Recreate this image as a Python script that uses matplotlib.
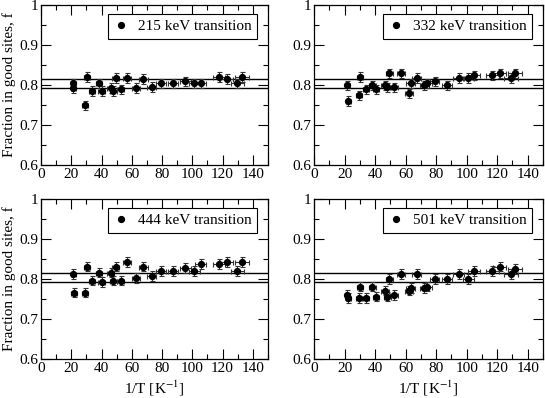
import matplotlib
matplotlib.use("Agg")
import matplotlib.pyplot as plt
from matplotlib.ticker import MultipleLocator, FuncFormatter
from matplotlib.lines import Line2D
import numpy as np

plt.rcParams['font.family'] = ['Liberation Serif', 'DejaVu Serif']
plt.rcParams['mathtext.fontset'] = 'stix'

# ---- data ----
x_left = [21.4, 21.4, 30.2, 29.1, 33.5, 38.3, 40.1, 46.0, 47.8, 49.3, 52.6, 57.1,
          62.6, 67.6, 73.1, 79.3, 87.4, 95.4, 101.3, 105.5, 117.6, 122.7, 129.8, 132.6]
f_215 = [0.804, 0.793, 0.820, 0.749, 0.785, 0.804, 0.785, 0.793, 0.785, 0.818, 0.789, 0.818,
         0.793, 0.815, 0.795, 0.804, 0.804, 0.809, 0.804, 0.804, 0.820, 0.815, 0.804, 0.820]
x_left3 = [21.4, 21.8, 29.1, 30.2, 33.5, 38.3, 40.1, 46.0, 47.8, 49.3, 52.6, 57.1,
           62.8, 67.6, 73.1, 79.3, 87.4, 95.4, 101.3, 105.5, 117.6, 122.7, 129.8, 132.6]
f_444 = [0.812, 0.766, 0.766, 0.831, 0.796, 0.816, 0.792, 0.816, 0.796, 0.831, 0.796, 0.842,
         0.802, 0.831, 0.808, 0.820, 0.820, 0.827, 0.820, 0.837, 0.837, 0.842, 0.820, 0.842]

x_right = [21.9, 22.5, 30.1, 29.5, 33.9, 38.2, 40.6, 46.5, 48.0, 49.3, 52.6, 57.0, 62.2,
           63.3, 67.2, 72.2, 74.2, 79.0, 87.1, 94.9, 101.0, 104.8, 116.8, 121.8, 129.0, 131.8]
f_332 = [0.799, 0.760, 0.820, 0.774, 0.789, 0.799, 0.789, 0.799, 0.794, 0.829, 0.794, 0.829, 0.779,
         0.804, 0.818, 0.799, 0.804, 0.809, 0.799, 0.818, 0.818, 0.824, 0.824, 0.829, 0.818, 0.829]
x_right4 = [21.9, 22.5, 29.5, 30.1, 33.9, 38.2, 40.6, 46.5, 48.0, 49.3, 52.6, 57.0, 62.2,
            63.3, 67.2, 72.2, 74.2, 79.0, 87.1, 94.9, 101.0, 104.8, 116.8, 121.8, 129.0, 131.8]
f_501 = [0.760, 0.752, 0.752, 0.781, 0.752, 0.781, 0.756, 0.771, 0.756, 0.800, 0.760, 0.812, 0.771,
         0.777, 0.812, 0.777, 0.781, 0.800, 0.800, 0.812, 0.800, 0.820, 0.820, 0.831, 0.812, 0.825]

ref_lines = [0.814, 0.792]
labels = ["215 keV transition", "332 keV transition", "444 keV transition", "501 keV transition"]

panels = [(x_left, f_215), (x_right, f_332), (x_left3, f_444), (x_right4, f_501)]

W, H = 545, 398
fig = plt.figure(figsize=(W / 100, H / 100), dpi=100)

rects = [(41, 5, 268, 165), (314, 5, 543, 165), (41, 199, 268, 359), (314, 199, 543, 359)]

fs = 11
for i, ((xs, fs_vals), (l, t, r, b)) in enumerate(zip(panels, rects)):
    ax = fig.add_axes([l / W, 1 - b / H, (r - l) / W, (b - t) / H])
    xs = np.array(xs)
    ys = np.array(fs_vals)
    xerr = 0.1 * xs * 0.25 + 1.2
    yerr = np.full_like(ys, 0.012)
    ax.errorbar(xs, ys, xerr=xerr, yerr=yerr, fmt='o', color='black', ms=4.2,
                ecolor='#333333', elinewidth=0.8, capsize=1.8, capthick=0.8, zorder=3)
    for yv in ref_lines:
        ax.axhline(yv, color='black', lw=1.0, zorder=2)
    ax.set_xlim(0, 150)
    ax.set_ylim(0.6, 1.0)
    ax.xaxis.set_major_locator(MultipleLocator(20))
    ax.xaxis.set_minor_locator(MultipleLocator(10))
    ax.yaxis.set_major_locator(MultipleLocator(0.1))
    ax.yaxis.set_minor_locator(MultipleLocator(0.05))
    ax.yaxis.set_major_formatter(FuncFormatter(lambda v, p: "1" if abs(v - 1) < 1e-9 else f"{v:.1f}"))
    ax.tick_params(which='both', direction='in', top=True, right=True, labelsize=fs, pad=2)
    ax.tick_params(which='major', length=7, width=0.8)
    ax.tick_params(which='minor', length=3.5, width=0.8)
    for s in ax.spines.values():
        s.set_linewidth(0.9)
    handle = Line2D([], [], marker='o', color='black', ls='none', ms=4.2)
    leg = ax.legend([handle], [labels[i]], loc='upper right', fontsize=fs, frameon=True,
                    fancybox=False, handlelength=1.0, handletextpad=0.6, borderpad=0.35,
                    bbox_to_anchor=(0.985, 0.99), numpoints=1, framealpha=1)
    leg.get_frame().set_edgecolor('black')
    leg.get_frame().set_linewidth(0.8)
    if i % 2 == 0:
        ax.set_ylabel("Fraction in good sites, f", fontsize=fs, labelpad=2)
    if i >= 2:
        ax.set_xlabel("1/T [K$^{-1}$]", fontsize=fs, labelpad=3)

fig.savefig("out.png", dpi=100)
